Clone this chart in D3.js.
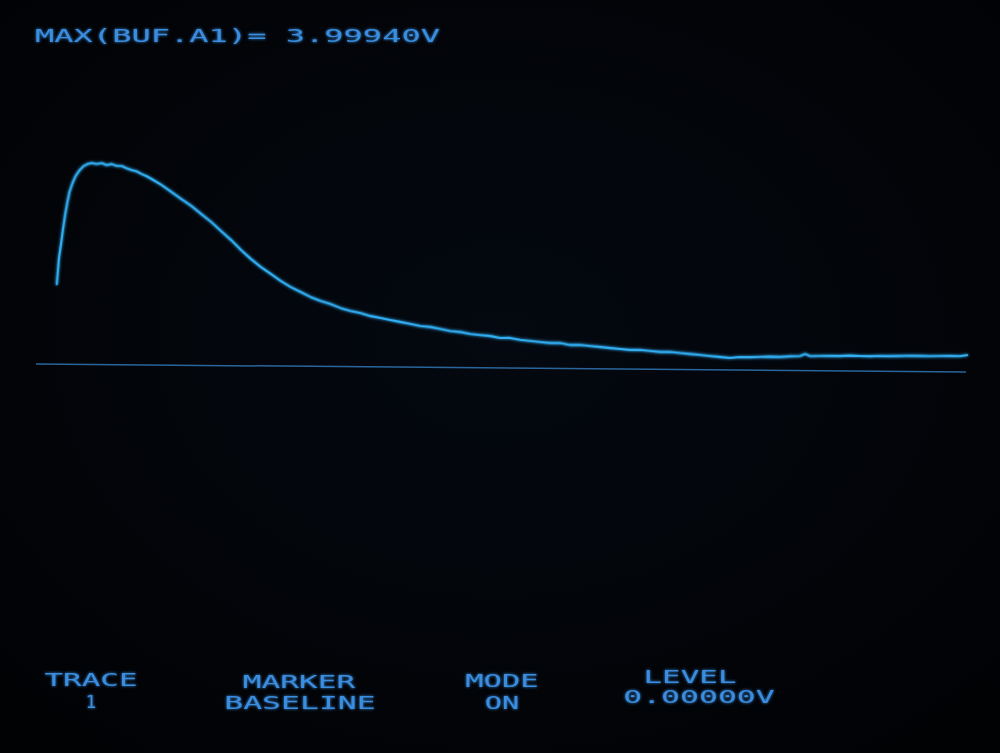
<!DOCTYPE html>
<html>
<head>
<meta charset="utf-8">
<script src="https://cdn.jsdelivr.net/npm/d3@7"></script>
<style>
  html, body { margin: 0; padding: 0; background: #020408; }
  svg { display: block; }
</style>
</head>
<body>
<svg id="chart" width="1000" height="753"></svg>
<script>
const headerText = "MAX(BUF.A1)= 3.99940V";
const timeUnits = [21.5,22.6,23.7,25.8,28.0,30.1,32.3,34.4,37.6,40.9,45.2,49.5,53.8,58.1,63.4,68.8,74.2,79.6,84.9,90.3,
  95.7,101.1,106.4,111.8,117.2,122.6,133.3,144.1,154.8,165.6,176.3,187.1,197.8,208.6,219.4,230.1,240.9,251.6,262.4,273.1,
  283.9,294.6,305.4,316.1,326.9,337.6,348.4,359.1,369.9,380.6,391.4,402.2,412.9,423.7,434.4,445.2,455.9,466.7,477.4,488.2,
  498.9,509.7,520.4,531.2,541.9,552.7,563.4,574.2,584.9,595.7,606.5,617.2,628.0,638.7,649.5,660.2,671.0,681.7,692.5,703.2,
  714.0,724.7,735.5,746.2,757.0,767.7,778.5,789.2,800.0,810.8,821.5,826.9,832.3,843.0,853.8,864.5,875.3,886.0,896.8,907.5,
  918.3,929.0,939.8,950.5,961.3,972.0,982.8,993.5,1002.0];
const volts = [1.571,1.829,2.107,2.385,2.703,2.981,3.219,3.418,3.597,3.737,3.856,3.937,3.977,3.997,3.978,3.999,3.960,3.981,3.942,3.943,
  3.900,3.865,3.840,3.787,3.745,3.690,3.573,3.435,3.298,3.161,3.004,2.847,2.670,2.493,2.297,2.120,1.963,1.826,1.688,1.571,
  1.474,1.376,1.298,1.241,1.163,1.105,1.067,1.009,0.971,0.933,0.895,0.858,0.819,0.801,0.763,0.725,0.707,0.669,0.651,0.633,
  0.595,0.597,0.559,0.541,0.522,0.504,0.506,0.468,0.470,0.452,0.434,0.415,0.397,0.379,0.381,0.363,0.345,0.346,0.328,0.310,
  0.292,0.274,0.256,0.237,0.259,0.255,0.262,0.270,0.266,0.280,0.289,0.330,0.288,0.292,0.298,0.296,0.305,0.299,0.296,0.303,
  0.300,0.306,0.312,0.310,0.308,0.313,0.318,0.312,0.338];
const baselineLevel = [0, 0];
const baselineTime = [0, 1000];
const softkeyTitles = ["TRACE", "MARKER", "MODE", "LEVEL"];
const softkeyValues = ["1", "BASELINE", "ON", "0.00000V"];

// ---- layout ----
const svg = d3.select("#chart");
const W = 1000, H = 753;
const color = "#30b0f6";
const textColor = "#3a8de0";
const pitch = 19.5, gap = 4.5;

const defs = svg.append("defs");
const glow = defs.append("filter").attr("id", "glow").attr("x", "-10%").attr("y", "-50%").attr("width", "120%").attr("height", "200%");
glow.append("feGaussianBlur").attr("stdDeviation", 1.4).attr("result", "b");
const m = glow.append("feMerge");
m.append("feMergeNode").attr("in", "b");
m.append("feMergeNode").attr("in", "SourceGraphic");

const vig = defs.append("radialGradient").attr("id", "vig").attr("cx", "50%").attr("cy", "45%").attr("r", "70%");
vig.append("stop").attr("offset", "0%").attr("stop-color", "#040810");
vig.append("stop").attr("offset", "100%").attr("stop-color", "#010204");

svg.append("rect").attr("width", W).attr("height", H).attr("fill", "url(#vig)");

const x = d3.scaleLinear().domain([0, 1000]).range([36, 966]);
const y = d3.scaleLinear().domain([0, 4]).range([364, 364 - 4 * 50.4]);

const plot = svg.append("g").attr("transform", "rotate(0.49, 36, 364)");

// baseline marker
plot.append("path")
  .datum(d3.zip(baselineTime, baselineLevel))
  .attr("d", d3.line().x(d => x(d[0])).y(d => y(d[1])))
  .attr("stroke", "#2d70ab").attr("stroke-width", 1.5).attr("fill", "none").attr("opacity", 0.9);

// trace
plot.append("path")
  .datum(d3.zip(timeUnits, volts))
  .attr("d", d3.line().x(d => x(d[0])).y(d => y(d[1])))
  .attr("stroke", color).attr("stroke-width", 2.1).attr("fill", "none")
  .attr("stroke-linejoin", "round")
  .attr("filter", "url(#glow)");

function dotText(str, xLeftOrCenter, yBase, size, anchor) {
  const t = svg.append("text")
    .attr("x", xLeftOrCenter).attr("y", yBase)
    .attr("text-anchor", anchor)
    .attr("font-family", "DejaVu Sans Mono, monospace")
    .attr("font-size", size)
    .attr("fill", textColor).attr("filter", "url(#glow)")
    .text(str);
  if (str.length > 1) {
    t.attr("textLength", str.length * pitch - gap).attr("lengthAdjust", "spacingAndGlyphs");
  }
  return t;
}

// header readout
dotText(headerText, 35, 42, 17, "start");

// softkey labels
const keyCenters = [91, 299, 502, 690];
const valueCenters = [91, 300, 502, 699];
const titleY = [686, 688, 687, 683];
const valueY = [708, 709, 709, 703];
softkeyTitles.forEach((t, i) => dotText(t, keyCenters[i], titleY[i], 18, "middle"));
softkeyValues.forEach((t, i) => dotText(t, valueCenters[i], valueY[i], 18, "middle"));
</script>
</body>
</html>
